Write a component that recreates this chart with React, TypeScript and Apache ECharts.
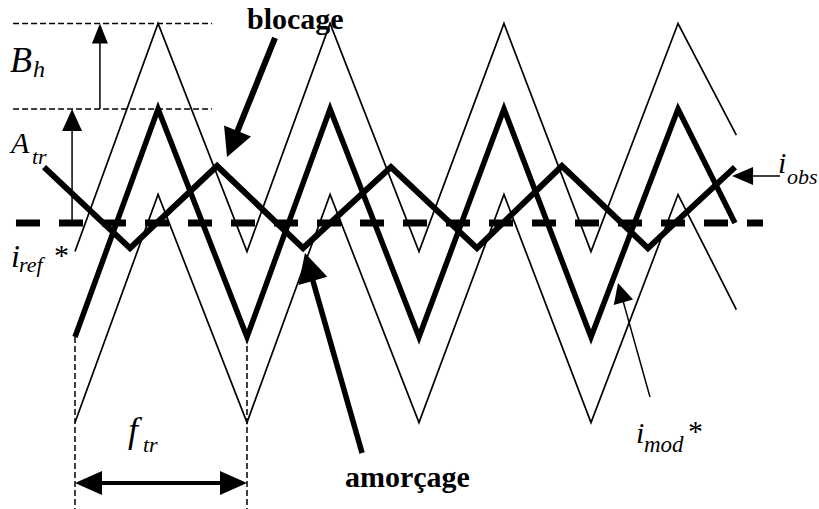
import React, { useEffect, useRef } from "react";
import * as echarts from "echarts";

// time axis: one unit = one period of the triangular carrier (f_tr)
// current axis: one unit = A_tr, reference i_ref* = 0
const T_MOD = [0, 0.483, 1, 1.483, 2, 2.494, 3, 3.506, 3.837];
const I_MOD = [-1, 1, -1, 1, -1, 1, -1, 1, 0];
const T_BAND = [0, 0.483, 1, 1.483, 2, 2.494, 3, 3.506, 3.845];
const I_UPPER = [-0.25, 1.75, -0.25, 1.75, -0.25, 1.75, -0.25, 1.75, 0.77];
const I_LOWER = [-1.75, 0.25, -1.75, 0.25, -1.75, 0.25, -1.75, 0.25, -0.76];
const T_OBS = [-0.18, 0.32, 0.826, 1.326, 1.837, 2.337, 2.831, 3.331, 3.837];
const I_OBS = [0.49, -0.22, 0.5, -0.22, 0.49, -0.22, 0.5, -0.22, 0.49];
const I_REF = 0;
const A_TR = 1;
const B_H_LEVEL = 1.75;
const T_REF_RANGE = [-0.343, 4.0];
const T_LEVEL_RANGE = [-0.36, 0.797];
const T_PERIOD_MARKS = [0, 1];

const X_MIN = -0.436;
const X_MAX = 4.3256;
const Y_MIN = -2.5088;
const Y_MAX = 1.9561;

const SERIF = '"Liberation Serif", "Times New Roman", serif';

export default function App() {
  const ref = useRef<HTMLDivElement>(null);

  useEffect(() => {
    const chart = echarts.init(ref.current!, null, { renderer: "svg" });

    const mkLine = (
      xs: number[],
      ys: number[],
      width: number,
      dash: any = "solid",
      z = 2
    ) => ({
      type: "line",
      data: xs.map((x, k) => [x, ys[k]]),
      showSymbol: false,
      symbol: "none",
      silent: true,
      z,
      lineStyle: { color: "#000", width, type: dash, join: "miter", cap: "butt" },
    });

    chart.setOption({
      animation: false,
      backgroundColor: "#fff",
      grid: { left: 0, right: 0, top: 0, bottom: 0, containLabel: false },
      xAxis: { type: "value", min: X_MIN, max: X_MAX, show: false },
      yAxis: { type: "value", min: Y_MIN, max: Y_MAX, show: false },
      series: [
        mkLine(T_REF_RANGE, [I_REF, I_REF], 7, [24, 19], 1),
        mkLine(T_LEVEL_RANGE, [B_H_LEVEL, B_H_LEVEL], 1.3, [6, 3], 1),
        mkLine(T_LEVEL_RANGE, [A_TR, A_TR], 1.3, [6, 3], 1),
        mkLine([T_PERIOD_MARKS[0], T_PERIOD_MARKS[0]], [-1, Y_MIN], 1.5, [6, 3], 1),
        mkLine([T_PERIOD_MARKS[1], T_PERIOD_MARKS[1]], [-1, Y_MIN], 1.5, [6, 3], 1),
        mkLine(T_BAND, I_UPPER, 1.7),
        mkLine(T_BAND, I_LOWER, 1.7),
        mkLine(T_MOD, I_MOD, 5.5, "solid", 3),
        mkLine(T_OBS, I_OBS, 6, "solid", 3),
      ],
    });

    const px = (p: number[]) =>
      chart.convertToPixel({ xAxisIndex: 0, yAxisIndex: 0 }, p) as number[];

    const arrow = (
      from: number[],
      to: number[],
      shaft: number,
      len: number,
      hw: number,
      both = false
    ) => {
      const a = px(from);
      const b = px(to);
      const dx = b[0] - a[0];
      const dy = b[1] - a[1];
      const d = Math.hypot(dx, dy);
      const ux = dx / d;
      const uy = dy / d;
      const nx = -uy;
      const ny = ux;
      const head = (tip: number[], sx: number, sy: number) => {
        const bx = tip[0] - sx * len;
        const by = tip[1] - sy * len;
        return {
          type: "polygon",
          z: 10,
          shape: {
            points: [
              [tip[0], tip[1]],
              [bx + nx * hw, by + ny * hw],
              [bx - nx * hw, by - ny * hw],
            ],
          },
          style: { fill: "#000" },
        };
      };
      const endB = [b[0] - ux * len * 0.8, b[1] - uy * len * 0.8];
      const startA = both ? [a[0] + ux * len * 0.8, a[1] + uy * len * 0.8] : a;
      const els: any[] = [
        {
          type: "line",
          z: 9,
          shape: { x1: startA[0], y1: startA[1], x2: endB[0], y2: endB[1] },
          style: { stroke: "#000", lineWidth: shaft },
        },
        head(b, ux, uy),
      ];
      if (both) els.push(head(a, -ux, -uy));
      return els;
    };

    const txt = (
      text: string,
      x: number,
      y: number,
      size: number,
      italic = true,
      bold = false
    ) => ({
      type: "text",
      x,
      y,
      z: 12,
      style: {
        text,
        fontFamily: SERIF,
        fontSize: size,
        fontStyle: italic ? "italic" : "normal",
        fontWeight: bold ? "bold" : "normal",
        fill: "#000",
        align: "left",
        verticalAlign: "middle",
      },
    });

    const graphic: any[] = [
      ...arrow([0.145, A_TR], [0.145, B_H_LEVEL], 1.5, 20, 8),
      ...arrow([-0.017, I_REF], [-0.017, A_TR], 1.5, 22, 10),
      ...arrow([1.163, 1.623], [0.884, 0.579], 6, 28, 14.5),
      ...arrow([1.669, -2.018], [1.337, -0.263], 5.5, 29, 15),
      ...arrow([3.343, -1.526], [3.157, -0.526], 1.5, 20, 10),
      ...arrow([4.099, 0.412], [3.82, 0.412], 1.5, 21, 9),
      ...arrow([0, -2.281], [1, -2.281], 4, 27, 12, true),
      txt("B", 10, 60, 36),
      txt("h", 33, 69, 24),
      txt("A", 11, 142, 30),
      txt("tr", 32, 156, 22),
      txt("i", 11, 256, 32),
      txt("ref", 19, 264, 22),
      txt("*", 54, 254, 30, false),
      txt("i", 778, 162, 30),
      txt("obs", 787, 176, 22),
      txt("i", 636, 432, 30),
      txt("mod", 644, 444, 23),
      txt("*", 688, 430, 30, false),
      txt("f", 128, 430, 36),
      txt("tr", 143, 444, 22),
      txt("blocage", 247, 18, 30, false, true),
      txt("amorçage", 345, 476, 30, false, true),
    ];

    chart.setOption({ graphic });

    return () => chart.dispose();
  }, []);

  return (
    <div
      ref={ref}
      style={{ position: "absolute", left: 0, top: 0, width: 819, height: 509, background: "#fff" }}
    />
  );
}
